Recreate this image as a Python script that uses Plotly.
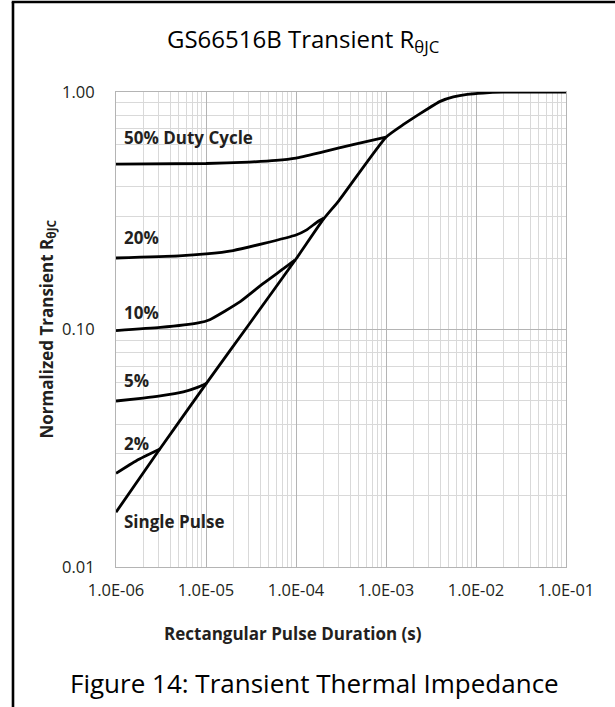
import math
import plotly.graph_objects as go

# ---- data ----
single_x = [1e-6, 3e-6, 1e-5, 3e-5, 1e-4, 2e-4, 3e-4, 1e-3, 1.5e-3, 2e-3, 2.8e-3, 4e-3, 5.6e-3, 8e-3, 1.2e-2, 2e-2, 5e-2, 1e-1]
single_y = [0.017, 0.031, 0.059, 0.105, 0.198, 0.29, 0.349, 0.645, 0.722, 0.776, 0.842, 0.913, 0.953, 0.977, 0.99, 0.998, 1.0, 1.0]

d50_x = [1e-6, 1e-5, 3e-5, 6e-5, 1e-4, 2e-4, 4.3e-4, 1e-3]
d50_y = [0.497, 0.50, 0.507, 0.515, 0.527, 0.56, 0.60, 0.645]

d20_x = [1e-6, 5e-6, 1e-5, 2e-5, 4.3e-5, 1e-4, 1.3e-4, 1.75e-4, 2.05e-4]
d20_y = [0.2, 0.204, 0.208, 0.215, 0.23, 0.25, 0.262, 0.285, 0.295]

d10_x = [1e-6, 3.1e-6, 8.2e-6, 1.1e-5, 2.4e-5, 4.3e-5, 7.5e-5, 9.7e-5]
d10_y = [0.099, 0.102, 0.1066, 0.11, 0.131, 0.156, 0.182, 0.196]

d5_x = [1e-6, 2e-6, 3.1e-6, 5.6e-6, 7.9e-6, 1.02e-5]
d5_y = [0.05, 0.0514, 0.0525, 0.0546, 0.0569, 0.0594]

d2_x = [1e-6, 1.7e-6, 3.08e-6]
d2_y = [0.0248, 0.0281, 0.0314]

x_ticks = [1e-6, 1e-5, 1e-4, 1e-3, 1e-2, 1e-1]
x_ticktext = ["1.0E-06", "1.0E-05", "1.0E-04", "1.0E-03", "1.0E-02", "1.0E-01"]
y_ticks = [0.01, 0.1, 1.0]
y_ticktext = ["0.01", "0.10", "1.00"]

curve_labels = ["50% Duty Cycle", "20%", "10%", "5%", "2%", "Single Pulse"]
label_y = [0.641, 0.245, 0.118, 0.061, 0.033, 0.0156]

FONT = "Open Sans"
TXT = "#231f20"

fig = go.Figure()
series = [(single_x, single_y), (d50_x, d50_y), (d20_x, d20_y), (d10_x, d10_y), (d5_x, d5_y), (d2_x, d2_y)]
for xs, ys in series:
    fig.add_trace(go.Scatter(x=xs, y=ys, mode="lines",
                             line=dict(color="black", width=2.8, shape="spline", smoothing=0.5),
                             showlegend=False, hoverinfo="skip"))

grid_major = "#b4b4b4"
grid_minor = "#d9d9d9"

fig.update_xaxes(type="log", range=[-6, -1], tickmode="array", tickvals=x_ticks, ticktext=x_ticktext,
                 showgrid=True, gridcolor=grid_major, gridwidth=1,
                 minor=dict(dtick="D1", showgrid=True, gridcolor=grid_minor, gridwidth=1, ticks=""),
                 showline=True, linecolor=grid_major, linewidth=1, mirror=True,
                 ticks="", ticklabelstandoff=8, zeroline=False,
                 tickfont=dict(family=FONT, size=16.5, color=TXT))
fig.update_yaxes(type="log", range=[-2, 0], tickmode="array", tickvals=y_ticks, ticktext=y_ticktext,
                 showgrid=True, gridcolor=grid_major, gridwidth=1,
                 minor=dict(dtick="D1", showgrid=True, gridcolor=grid_minor, gridwidth=1, ticks=""),
                 showline=True, linecolor=grid_major, linewidth=1, mirror=True,
                 ticks="", ticklabelstandoff=17, zeroline=False,
                 tickfont=dict(family=FONT, size=16.5, color=TXT))

annotations = []
for txt, ly in zip(curve_labels, label_y):
    annotations.append(dict(x=-6, y=math.log10(ly), xref="x", yref="y", text="<b>%s</b>" % txt,
                            showarrow=False, xanchor="left", yanchor="middle", xshift=6,
                            font=dict(family=FONT, size=17, color=TXT)))

# titles
annotations.append(dict(x=0.4156, y=1.1095, xref="paper", yref="paper", text="GS66516B Transient R<sub>θJC</sub>",
                        showarrow=False, xanchor="center", yanchor="middle",
                        font=dict(family=FONT, size=24, color="black")))
annotations.append(dict(x=0.394, y=-0.139, xref="paper", yref="paper", text="<b>Rectangular Pulse Duration (s)</b>",
                        showarrow=False, xanchor="center", yanchor="middle",
                        font=dict(family=FONT, size=17, color=TXT)))
annotations.append(dict(x=-0.1533, y=0.5, xref="paper", yref="paper", text="<b>Normalized Transient R<sub>θJC</sub></b>",
                        showarrow=False, xanchor="center", yanchor="middle", textangle=-90,
                        font=dict(family=FONT, size=17, color=TXT)))
annotations.append(dict(x=0.44, y=-0.2442, xref="paper", yref="paper", text="Figure 14: Transient Thermal Impedance",
                        showarrow=False, xanchor="center", yanchor="middle",
                        font=dict(family=FONT, size=26, color="black")))

shapes = [
    dict(type="line", xref="paper", yref="paper", x0=-0.2289, x1=-0.2289, y0=1.1895, y1=-0.30,
         line=dict(color="black", width=2.6)),
    dict(type="line", xref="paper", yref="paper", x0=-0.2317, x1=1.12, y0=1.1895, y1=1.1895,
         line=dict(color="black", width=2.6)),
]

fig.update_layout(width=615, height=707, margin=dict(l=116, r=49, t=92, b=140),
                  paper_bgcolor="white", plot_bgcolor="white",
                  annotations=annotations, shapes=shapes,
                  font=dict(family=FONT, color=TXT))

fig.write_html("out.html", config={"displayModeBar": False},
               post_script="document.body.style.margin='0';document.body.style.padding='0';")
